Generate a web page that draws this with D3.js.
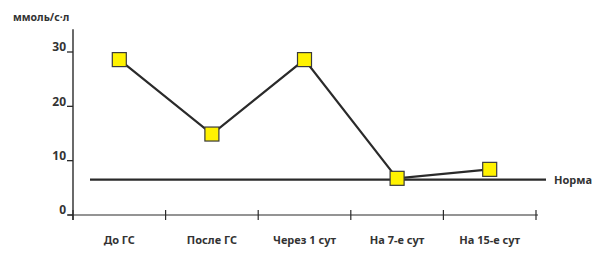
<!DOCTYPE html>
<html>
<head>
<meta charset="utf-8">
<script src="https://cdn.jsdelivr.net/npm/d3@7"></script>
<style>
  body { margin: 0; background: #fff; }
  svg { display: block; }
  text { font-family: "Noto Sans", "Open Sans", sans-serif; font-weight: bold; fill: #333; }
</style>
</head>
<body>
<div id="chart"></div>
<script>
// data
const categories = ["До ГС", "После ГС", "Через 1 сут", "На 7-е сут", "На 15-е сут"];
const values = [28.6, 14.9, 28.6, 6.75, 8.4];
const yTicks = [0, 10, 20, 30];
const normValue = 6.5;
const normLabel = "Норма";
const yTitle = "ммоль/с·л";

const width = 595, height = 253;
const plotLeft = 73, plotRight = 536, plotBottom = 215, plotTop = 52;
const ink = "#2a2a2a";

const svg = d3.select("#chart").append("svg")
  .attr("width", width)
  .attr("height", height);

const x = d3.scaleBand()
  .domain(categories)
  .range([plotLeft, plotRight])
  .padding(0);

const y = d3.scaleLinear()
  .domain([0, 30])
  .range([plotBottom, plotTop]);

// y axis
svg.append("line")
  .attr("x1", plotLeft).attr("x2", plotLeft)
  .attr("y1", y(34.2)).attr("y2", plotBottom + 5)
  .attr("stroke", ink).attr("stroke-width", 1.4);

svg.selectAll(".ytick")
  .data(yTicks)
  .join("line")
  .attr("x1", plotLeft - 6).attr("x2", plotLeft)
  .attr("y1", d => y(d)).attr("y2", d => y(d))
  .attr("stroke", ink).attr("stroke-width", 1.3);

svg.selectAll(".ylab")
  .data(yTicks)
  .join("text")
  .attr("x", plotLeft - 7)
  .attr("y", d => y(d))
  .attr("dy", "-0.05em")
  .attr("text-anchor", "end")
  .attr("font-size", 12)
  .text(d => d);

svg.append("text")
  .attr("x", 13).attr("y", 21)
  .attr("font-size", 10.5)
  .text(yTitle);

// x axis
svg.append("line")
  .attr("x1", plotLeft - 5).attr("x2", plotRight + 2)
  .attr("y1", plotBottom).attr("y2", plotBottom)
  .attr("stroke", ink).attr("stroke-width", 1.2);

const edges = categories.map(c => x(c)).concat([x(categories[categories.length - 1]) + x.bandwidth()]);
svg.selectAll(".xtick")
  .data(edges)
  .join("line")
  .attr("x1", d => d).attr("x2", d => d)
  .attr("y1", plotBottom - 5).attr("y2", plotBottom + 5)
  .attr("stroke", ink).attr("stroke-width", 1.2);

svg.selectAll(".xlab")
  .data(categories)
  .join("text")
  .attr("x", d => x(d) + x.bandwidth() / 2)
  .attr("y", 244)
  .attr("text-anchor", "middle")
  .attr("font-size", 11)
  .text(d => d);

// norm line
svg.append("line")
  .attr("x1", 90).attr("x2", 546)
  .attr("y1", y(normValue)).attr("y2", y(normValue))
  .attr("stroke", ink).attr("stroke-width", 2.2);

svg.append("text")
  .attr("x", 554)
  .attr("y", y(normValue))
  .attr("dy", "0.35em")
  .attr("font-size", 11)
  .text(normLabel);

// series
const pts = categories.map((c, i) => ({ c, v: values[i] }));
const line = d3.line()
  .x(d => x(d.c) + x.bandwidth() / 2)
  .y(d => y(d.v));

svg.append("path")
  .datum(pts)
  .attr("d", line)
  .attr("fill", "none")
  .attr("stroke", ink)
  .attr("stroke-width", 2.2);

const s = 14;
svg.selectAll(".marker")
  .data(pts)
  .join("rect")
  .attr("x", d => x(d.c) + x.bandwidth() / 2 - s / 2)
  .attr("y", d => y(d.v) - s / 2)
  .attr("width", s).attr("height", s)
  .attr("fill", "#fff200")
  .attr("stroke", "#3a3a3a")
  .attr("stroke-width", 1.2);
</script>
</body>
</html>
